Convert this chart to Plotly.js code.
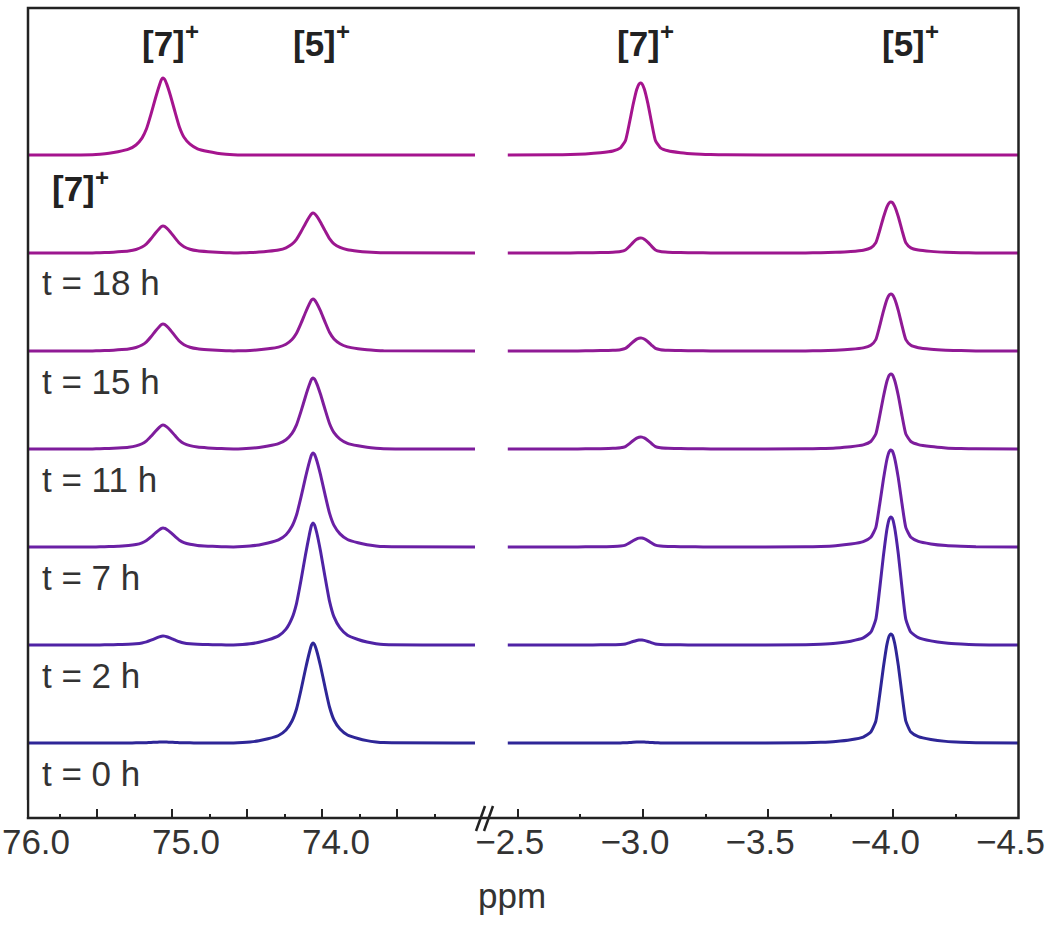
<!DOCTYPE html>
<html>
<head>
<meta charset="utf-8">
<script src="https://cdn.plot.ly/plotly-3.0.1.min.js"></script>
<style>html,body{margin:0;padding:0;background:#fff;}#chart{width:1050px;height:927px;}</style>
</head>
<body>
<div id="chart"></div>
<script>
// ---------- data ----------
const spectrumLabels = ['[7]+', 't = 18 h', 't = 15 h', 't = 11 h', 't = 7 h', 't = 2 h', 't = 0 h'];
const spectrumColors = ['#a5148e', '#9c178f', '#901a95', '#7e1d9c', '#6a20a5', '#4f23a5', '#2e2697'];

// peak positions (ppm)
const leftPeakPpm = [75.06, 74.06];     // [7]+, [5]+
const rightPeakPpm = [-2.99, -3.99];    // [7]+, [5]+

// peak heights (intensity units), top spectrum first
const left7Height  = [77, 27, 27, 24, 19, 9, 1];
const left5Height  = [0, 40, 52, 71, 94, 122, 100];
const right7Height = [72, 15, 13, 12, 9, 5, 1];
const right5Height = [0, 51, 57, 75, 97, 128, 109];

// line shape (offset in ppm, relative intensity)
const leftShapeOffset = [-0.47, -0.42, -0.36, -0.3, -0.23, -0.18, -0.14, -0.11, -0.08, -0.05, -0.025, -0.01, 0, 0.01, 0.025, 0.05, 0.08, 0.11, 0.14, 0.18, 0.23, 0.3, 0.36, 0.42, 0.47];
const leftShapeRel    = [0.004, 0.011, 0.024, 0.045, 0.08, 0.14, 0.23, 0.36, 0.56, 0.77, 0.92, 0.985, 1.0, 0.98, 0.9, 0.74, 0.53, 0.34, 0.22, 0.13, 0.075, 0.042, 0.022, 0.01, 0.004];
const rightShapeOffset = [-0.34, -0.28, -0.22, -0.16, -0.11, -0.08, -0.06, -0.045, -0.03, -0.015, -0.006, 0, 0.006, 0.015, 0.03, 0.045, 0.06, 0.08, 0.11, 0.16, 0.22, 0.28, 0.34];
const rightShapeRel    = [0.002, 0.007, 0.015, 0.032, 0.058, 0.1, 0.2, 0.44, 0.71, 0.92, 0.99, 1.0, 0.985, 0.91, 0.69, 0.43, 0.2, 0.1, 0.055, 0.03, 0.014, 0.006, 0.002];

// spectral windows (ppm)
const leftWindow = [75.96, 72.98];
const rightWindow = [-2.46, -4.5];

// axis ticks
const leftTickVals = [76, 75, 74];
const leftTickText = ['76.0', '75.0', '74.0'];
const leftHalfVals = [75.5, 74.5, 73.5];
const leftMinorVals = [75.75, 75.25, 74.75, 74.25, 73.75, 73.25];
const rightTickVals = [-2.5, -3, -3.5, -4, -4.5];
const rightTickText = ['\u22122.5', '\u22123.0', '\u22123.5', '\u22124.0', '\u22124.5'];
const rightMinorVals = [-2.75, -3.25, -3.75, -4.25];

// peak label texts
const peakLabelText = ['[7]', '[5]', '[7]', '[5]'];

// ---------- build ----------
const W = 1050, H = 927;
const px = x => x / W;
const py = y => 1 - y / H;
const STACK = 98, BASE0 = 75;   // vertical stacking of spectra
const n = spectrumLabels.length;

function buildSpectrum(base, peaks, offs, rels, win) {
  const pts = [[win[0], base], [win[1], base]];
  peaks.forEach(([pos, h]) => {
    offs.forEach((o, k) => pts.push([pos + o, base + h * rels[k]]));
  });
  pts.sort((a, b) => b[0] - a[0]);
  return {x: pts.map(p => p[0]), y: pts.map(p => p[1])};
}

const traces = [];
for (let i = 0; i < n; i++) {
  const base = BASE0 + STACK * (n - 1 - i);
  const L = buildSpectrum(base, [[leftPeakPpm[0], left7Height[i]], [leftPeakPpm[1], left5Height[i]]], leftShapeOffset, leftShapeRel, leftWindow);
  const R = buildSpectrum(base, [[rightPeakPpm[0], right7Height[i]], [rightPeakPpm[1], right5Height[i]]], rightShapeOffset, rightShapeRel, rightWindow);
  const line = {color: spectrumColors[i], width: 3, shape: 'spline', smoothing: 0.5};
  traces.push({x: L.x, y: L.y, xaxis: 'x', yaxis: 'y', mode: 'lines', line, name: spectrumLabels[i], hoverinfo: 'skip'});
  traces.push({x: R.x, y: R.y, xaxis: 'x2', yaxis: 'y', mode: 'lines', line, name: spectrumLabels[i], hoverinfo: 'skip'});
}
// empty traces so the overlaying tick-only axes are drawn
['x3', 'x4', 'x5'].forEach(ax => traces.push({x: [], y: [], xaxis: ax, yaxis: 'y', mode: 'lines', hoverinfo: 'skip', showlegend: false}));

const FONT = 'Liberation Sans, Arial, sans-serif';
const tickFont = {family: FONT, size: 35, color: '#333'};
const axisCommon = {
  showgrid: false, zeroline: false, showline: false, anchor: 'y',
  ticks: 'inside', ticklen: 9, tickwidth: 2, tickcolor: '#222',
  tickmode: 'array', tickfont: tickFont, fixedrange: true, ticklabeloverflow: 'allow'
};

const annFont = {family: FONT, size: 35, color: '#333'};
const boldFont = {family: FONT, size: 35, color: '#222', weight: 'bold'};
const plusFont = {family: FONT, size: 24, color: '#222', weight: 'bold'};
const annotations = [];
function ionLabel(xc, yc, t) {
  annotations.push({xref: 'paper', yref: 'paper', x: px(xc - 7), y: py(yc), text: t, showarrow: false, font: boldFont, xanchor: 'center', yanchor: 'middle'});
  annotations.push({xref: 'paper', yref: 'paper', x: px(xc + 21.5), y: py(yc - 11), text: '+', showarrow: false, font: plusFont, xanchor: 'center', yanchor: 'middle'});
}
// peak labels on top
[170, 321, 645, 910].forEach((x, k) => ionLabel(x, 43, peakLabelText[k]));
// label of reference spectrum
ionLabel(80, 188, peakLabelText[0]);
// time labels
for (let i = 1; i < n; i++) {
  const yBase = 818 - (BASE0 + STACK * (n - 1 - i));
  annotations.push({xref: 'paper', yref: 'paper', x: px(40), y: py(yBase + 30), text: spectrumLabels[i], showarrow: false, font: annFont, xanchor: 'left', yanchor: 'middle'});
}
// axis title
annotations.push({xref: 'paper', yref: 'paper', x: px(512), y: py(895), text: 'ppm', showarrow: false, font: tickFont, xanchor: 'center', yanchor: 'middle'});

const shapes = [
  // frame
  {type: 'rect', xref: 'paper', yref: 'paper', x0: px(28), x1: px(1018.5), y0: py(818), y1: py(8), line: {color: '#222', width: 2.5}, layer: 'above'},
  // hide the 76.0 tick stub outside the frame
  {type: 'rect', xref: 'paper', yref: 'paper', x0: px(8), x1: px(26.6), y0: py(817), y1: py(800), fillcolor: '#fff', line: {width: 0}, layer: 'above'},
  // axis break marks
  {type: 'line', xref: 'paper', yref: 'paper', x0: px(476), y0: py(831), x1: px(485), y1: py(806), line: {color: '#222', width: 2.5}, layer: 'above'},
  {type: 'line', xref: 'paper', yref: 'paper', x0: px(484), y0: py(831), x1: px(493), y1: py(806), line: {color: '#222', width: 2.5}, layer: 'above'}
];

const leftDomain = [px(22), px(490)];
const leftRange = [76.0, 72.88];
const rightDomain = [px(490), px(1018.5)];
const rightRange = [-2.389, -4.5];
const tickOnly = {showticklabels: false};

const layout = {
  width: W, height: H,
  margin: {l: 0, r: 0, t: 0, b: 0},
  paper_bgcolor: '#fff', plot_bgcolor: 'rgba(0,0,0,0)',
  showlegend: false,
  xaxis: Object.assign({}, axisCommon, {
    domain: leftDomain, range: leftRange,
    tickvals: leftTickVals, ticktext: leftTickText, ticklabelshift: -14
  }),
  xaxis3: Object.assign({}, axisCommon, tickOnly, {
    overlaying: 'x', domain: leftDomain, range: leftRange, tickvals: leftHalfVals
  }),
  xaxis4: Object.assign({}, axisCommon, tickOnly, {
    overlaying: 'x', domain: leftDomain, range: leftRange, tickvals: leftMinorVals, ticklen: 4
  }),
  xaxis2: Object.assign({}, axisCommon, {
    domain: rightDomain, range: rightRange,
    tickvals: rightTickVals, ticktext: rightTickText, ticklabelshift: 8
  }),
  xaxis5: Object.assign({}, axisCommon, tickOnly, {
    overlaying: 'x2', domain: rightDomain, range: rightRange, tickvals: rightMinorVals, ticklen: 4
  }),
  yaxis: {domain: [py(818), py(8)], range: [0, 810], visible: false, fixedrange: true, anchor: 'x'},
  annotations, shapes
};

Plotly.newPlot('chart', traces, layout, {staticPlot: true, displayModeBar: false});
</script>
</body>
</html>
